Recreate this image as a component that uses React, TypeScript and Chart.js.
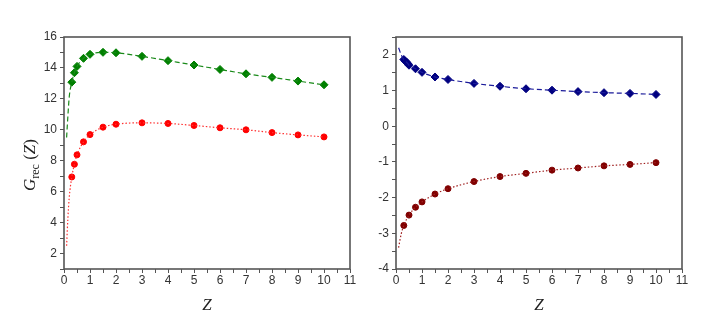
import React, { useEffect, useRef } from 'react';
import { Chart, registerables } from 'chart.js';
Chart.register(...registerables);

// ---------- data: left panel ----------
const zLeft = [0.3, 0.4, 0.5, 0.75, 1, 1.5, 2, 3, 4, 5, 6, 7, 8, 9, 10];
const greenValues = [13.08, 13.69, 14.1, 14.62, 14.88, 15.01, 14.98, 14.75, 14.47, 14.19, 13.9, 13.62, 13.39, 13.15, 12.91];
const redValues = [6.95, 7.77, 8.38, 9.22, 9.69, 10.17, 10.36, 10.45, 10.41, 10.28, 10.13, 10.0, 9.82, 9.67, 9.54];
const greenLeadZ = [0.1, 0.15, 0.2];
const greenLead = [9.5, 10.9, 12.1];
const redLeadZ = [0.1, 0.15, 0.2];
const redLead = [2.5, 4.3, 5.6];

// ---------- data: right panel ----------
const zBlue = [0.3, 0.35, 0.4, 0.45, 0.5, 0.75, 1, 1.5, 2, 3, 4, 5, 6, 7, 8, 9, 10];
const blueValues = [1.87, 1.83, 1.8, 1.76, 1.71, 1.61, 1.51, 1.38, 1.31, 1.2, 1.12, 1.05, 1.01, 0.97, 0.94, 0.92, 0.89];
const zDark = [0.3, 0.5, 0.75, 1, 1.5, 2, 3, 4, 5, 6, 7, 8, 9, 10];
const darkValues = [-2.78, -2.49, -2.27, -2.12, -1.9, -1.75, -1.55, -1.41, -1.32, -1.23, -1.17, -1.11, -1.07, -1.02];
const blueLeadZ = [0.1, 0.2];
const blueLead = [2.2, 2.0];
const darkLeadZ = [0.1, 0.2];
const darkLead = [-3.4, -3.02];

// ---------- tick labels ----------
const xTickLabels = ['0', '1', '2', '3', '4', '5', '6', '7', '8', '9', '10', '11'];
const leftYTickLabels = ['2', '4', '6', '8', '10', '12', '14', '16'];
const rightYTickLabels = ['-4', '-3', '-2', '-1', '0', '1', '2'];

const xTitle = 'Z';
const yTitleMain = 'G';
const yTitleSub = 'rec';
const yTitleArg = 'Z';

const pts = (xs: number[], ys: number[]) => xs.map((x, i) => ({ x, y: ys[i] }));

const SANS = '"Liberation Sans", Arial, sans-serif';
const SERIF = '"Liberation Serif", "Times New Roman", serif';

const framePlugin = {
  id: 'frame',
  afterDraw(chart: any) {
    const { ctx, chartArea } = chart;
    ctx.save();
    ctx.strokeStyle = '#555';
    ctx.lineWidth = 1.6;
    ctx.strokeRect(chartArea.left, chartArea.top, chartArea.right - chartArea.left, chartArea.bottom - chartArea.top);
    ctx.restore();
  },
};

const yTitlePlugin = {
  id: 'yTitleSub',
  afterDraw(chart: any) {
    const { ctx, chartArea } = chart;
    const cy = (chartArea.top + chartArea.bottom) / 2 + 12;
    const cx = 31;
    ctx.save();
    ctx.translate(cx, cy);
    ctx.rotate(-Math.PI / 2);
    ctx.fillStyle = '#222';
    ctx.textBaseline = 'middle';
    ctx.textAlign = 'left';
    const fMain = `italic 17px ${SERIF}`;
    const fSub = `12px ${SERIF}`;
    const fPar = `17px ${SERIF}`;
    ctx.font = fMain;
    const wG = ctx.measureText(yTitleMain).width;
    ctx.font = fSub;
    const wSub = ctx.measureText(yTitleSub).width;
    ctx.font = fPar;
    const wOpen = ctx.measureText(' (').width;
    ctx.font = fMain;
    const wZ = ctx.measureText(yTitleArg).width;
    ctx.font = fPar;
    const wClose = ctx.measureText(')').width;
    const total = wG + wSub + wOpen + wZ + wClose;
    let x = -total / 2;
    ctx.font = fMain;
    ctx.fillText(yTitleMain, x, 0);
    x += wG;
    ctx.font = fSub;
    ctx.fillText(yTitleSub, x, 5);
    x += wSub;
    ctx.font = fPar;
    ctx.fillText(' (', x, 0);
    x += wOpen;
    ctx.font = fMain;
    ctx.fillText(yTitleArg, x, 0);
    x += wZ;
    ctx.font = fPar;
    ctx.fillText(')', x, 0);
    ctx.restore();
  },
};

function makeOptions(yMin: number, yMax: number, yStep: number, yLabels: string[], yWidth: number, padRight: number) {
  const tickFont = { family: SANS, size: 12 };
  return {
    animation: false,
    responsive: false,
    maintainAspectRatio: false,
    layout: { padding: { left: 0, right: padRight, top: 37, bottom: 0 } },
    plugins: { legend: { display: false }, tooltip: { enabled: false } },
    scales: {
      x: {
        type: 'linear',
        min: 0,
        max: 11,
        afterFit: (s: any) => {
          s.height = 53;
        },
        border: { display: false },
        grid: { drawOnChartArea: false, drawTicks: true, tickLength: 4, color: '#555', tickColor: '#555' },
        ticks: {
          stepSize: 0.5,
          autoSkip: false,
          maxRotation: 0,
          padding: 0,
          color: '#333',
          font: tickFont,
          callback: (v: any) => {
            const s = String(Math.round(v * 100) / 100);
            return xTickLabels.includes(s) ? s : '';
          },
        },
        title: {
          display: true,
          text: xTitle,
          color: '#222',
          font: { family: SERIF, size: 17, style: 'italic' },
          padding: { top: 0, bottom: 6 },
        },
      },
      y: {
        type: 'linear',
        min: yMin,
        max: yMax,
        afterFit: (s: any) => {
          s.width = yWidth;
        },
        border: { display: false },
        grid: { drawOnChartArea: false, drawTicks: true, tickLength: 4, color: '#555', tickColor: '#555' },
        ticks: {
          stepSize: yStep,
          autoSkip: false,
          padding: 3,
          color: '#333',
          font: tickFont,
          callback: (v: any) => {
            const s = String(Math.round(v * 100) / 100);
            return yLabels.includes(s) ? s : '';
          },
        },
      },
    },
  };
}

function curveDs(data: any[], color: string, dash: number[]) {
  return {
    data,
    showLine: true,
    borderColor: color,
    borderWidth: 1.2,
    borderDash: dash,
    pointRadius: 0,
    cubicInterpolationMode: 'monotone',
    fill: false,
  };
}

function markerDs(data: any[], color: string, style: string, r: number) {
  return {
    data,
    showLine: false,
    pointStyle: style,
    pointRadius: r,
    pointBackgroundColor: color,
    pointBorderColor: color,
    pointBorderWidth: 1,
  };
}

function LeftChart() {
  const ref = useRef<HTMLCanvasElement>(null);
  useEffect(() => {
    const chart = new Chart(ref.current!, {
      type: 'scatter',
      data: {
        datasets: [
          curveDs(pts([...greenLeadZ, ...zLeft], [...greenLead, ...greenValues]), '#1a8a1a', [5, 3]),
          curveDs(pts([...redLeadZ, ...zLeft], [...redLead, ...redValues]), '#ff3030', [1.5, 2]),
          markerDs(pts(zLeft, greenValues), '#008000', 'rectRot', 4),
          markerDs(pts(zLeft, redValues), '#ff0000', 'circle', 3),
        ],
      } as any,
      options: makeOptions(1, 16, 1, leftYTickLabels, 64, 8) as any,
      plugins: [framePlugin, yTitlePlugin],
    });
    return () => chart.destroy();
  }, []);
  return <canvas ref={ref} width={358} height={322} style={{ position: 'absolute', left: 0, top: 0, width: 358, height: 322 }} />;
}

function RightChart() {
  const ref = useRef<HTMLCanvasElement>(null);
  useEffect(() => {
    const chart = new Chart(ref.current!, {
      type: 'scatter',
      data: {
        datasets: [
          curveDs(pts([...blueLeadZ, ...zBlue], [...blueLead, ...blueValues]), '#1a1a9a', [5, 3]),
          curveDs(pts([...darkLeadZ, ...zDark], [...darkLead, ...darkValues]), '#a02020', [1.5, 2]),
          markerDs(pts(zBlue, blueValues), '#000080', 'rectRot', 4),
          markerDs(pts(zDark, darkValues), '#800000', 'circle', 3),
        ],
      } as any,
      options: makeOptions(-4, 2.5, 0.5, rightYTickLabels, 38, 34) as any,
      plugins: [framePlugin],
    });
    return () => chart.destroy();
  }, []);
  return <canvas ref={ref} width={358} height={322} style={{ position: 'absolute', left: 358, top: 0, width: 358, height: 322 }} />;
}

export default function App() {
  return (
    <div style={{ position: 'absolute', left: 0, top: 0, width: 716, height: 322, background: '#fff', overflow: 'hidden' }}>
      <LeftChart />
      <RightChart />
    </div>
  );
}
